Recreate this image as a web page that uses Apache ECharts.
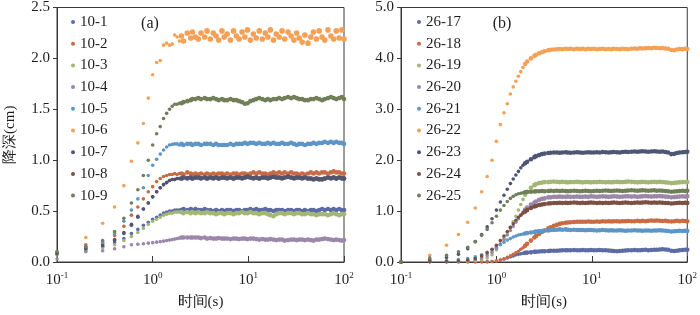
<!DOCTYPE html>
<html><head><meta charset="utf-8">
<script src="https://cdn.jsdelivr.net/npm/echarts@6/dist/echarts.min.js"></script>
<style>html,body{margin:0;padding:0;background:#fff}#c{width:700px;height:315px}</style>
</head><body><div id="c"></div>
<script>
// time axis (s)
const times = [0.1,0.2,0.3,0.4,0.5,0.6,0.7,0.8,0.9,1.0,1.1,1.2,1.3,1.4,1.5,1.6,1.7,1.8,1.9,
  2.0,2.1,2.3,2.5,2.6,2.8,3.0,3.2,3.5,3.7,
  4.0,4.3,4.6,4.9,5.3,5.6,6.0,6.5,7.0,7.5,
  8.0,8.6,9.2,9.8,10.5,11.3,12.1,13,14,15,
  16,17,18.3,19.6,21,22.5,24,26,28,30,
  32,34,36.5,39,42,45,48,51.5,55,59,
  63,68,73,78,83,89,95,100];

const namesA = ['10-1','10-2','10-3','10-4','10-5','10-6','10-7','10-8','10-9'];
const namesB = ['26-17','26-18','26-19','26-20','26-21','26-22','26-23','26-24','26-25'];

// panel (a) drawdown (cm)
const s10_1 = [0.09,0.12,0.15,0.19,0.23,0.28,0.32,0.36,0.39,0.42,0.44,0.46,0.48,0.49,0.50,0.50,0.51,0.51,0.51,
  0.51,0.52,0.51,0.52,0.51,0.52,0.51,0.51,0.52,0.51, 0.51,0.50,0.51,0.50,0.51,0.50,0.51,0.51,0.50,0.51,
  0.51,0.50,0.51,0.51,0.52,0.51,0.52,0.51,0.51,0.52, 0.51,0.51,0.50,0.51,0.51,0.51,0.50,0.51,0.51,0.50,
  0.51,0.51,0.50,0.51,0.50,0.51,0.51,0.50,0.51,0.52, 0.51,0.52,0.51,0.52,0.51,0.52,0.51,0.51];
const s10_2 = [0.10,0.17,0.19,0.26,0.35,0.46,0.54,0.62,0.69,0.74,0.79,0.82,0.84,0.85,0.86,0.86,0.87,0.86,0.87,
  0.87,0.86,0.88,0.87,0.86,0.87,0.86,0.87,0.86,0.87, 0.86,0.87,0.86,0.87,0.87,0.86,0.87,0.86,0.87,0.87,
  0.86,0.87,0.87,0.86,0.87,0.88,0.87,0.88,0.87,0.87, 0.86,0.87,0.88,0.87,0.88,0.87,0.88,0.87,0.88,0.87,
  0.87,0.86,0.87,0.86,0.87,0.88,0.87,0.88,0.87,0.88, 0.88,0.87,0.88,0.89,0.88,0.88,0.87,0.87];
const s10_3 = [0.07,0.11,0.14,0.17,0.21,0.25,0.29,0.33,0.37,0.40,0.42,0.44,0.46,0.47,0.48,0.48,0.49,0.49,0.49,
  0.49,0.48,0.49,0.48,0.49,0.48,0.49,0.48,0.48,0.49, 0.48,0.48,0.47,0.48,0.48,0.47,0.48,0.48,0.47,0.48,
  0.48,0.49,0.48,0.48,0.49,0.48,0.48,0.47,0.48,0.48, 0.47,0.46,0.45,0.47,0.48,0.48,0.47,0.48,0.48,0.47,
  0.48,0.48,0.47,0.47,0.48,0.47,0.47,0.46,0.47,0.47, 0.47,0.46,0.47,0.48,0.47,0.46,0.47,0.47];
const s10_4 = [0.03,0.10,0.11,0.13,0.15,0.17,0.175,0.18,0.185,0.19,0.195,0.20,0.205,0.21,0.215,0.22,0.225,0.23,0.235,
  0.24,0.24,0.24,0.24,0.24,0.24,0.24,0.235,0.24,0.23, 0.235,0.23,0.23,0.235,0.23,0.23,0.23,0.225,0.23,0.23,
  0.225,0.23,0.23,0.225,0.23,0.23,0.225,0.22,0.225,0.22, 0.22,0.225,0.22,0.215,0.22,0.22,0.21,0.215,0.22,0.22,
  0.215,0.22,0.22,0.215,0.22,0.215,0.21,0.22,0.22,0.225, 0.23,0.225,0.22,0.215,0.22,0.215,0.21,0.215];
const s10_5 = [0.09,0.15,0.19,0.28,0.40,0.51,0.62,0.73,0.85,0.95,1.01,1.06,1.10,1.13,1.15,1.155,1.16,1.16,1.15,
  1.16,1.15,1.16,1.16,1.15,1.16,1.16,1.15,1.16,1.16, 1.16,1.15,1.16,1.15,1.15,1.15,1.15,1.16,1.15,1.16,
  1.16,1.16,1.17,1.16,1.17,1.17,1.16,1.17,1.16,1.16, 1.17,1.16,1.17,1.16,1.16,1.17,1.16,1.16,1.17,1.16,
  1.15,1.16,1.16,1.15,1.16,1.16,1.17,1.16,1.17,1.17, 1.18,1.17,1.18,1.17,1.18,1.17,1.17,1.16];
const s10_6 = [0.10,0.24,0.38,0.54,0.75,0.99,1.17,1.36,1.61,1.84,1.96,1.98,2.13,2.15,2.13,2.14,2.23,2.21,2.17,
  2.22,2.17,2.25,2.20,2.26,2.21,2.19,2.25,2.21,2.27, 2.19,2.25,2.22,2.18,2.27,2.21,2.24,2.18,2.27,2.22,
  2.19,2.26,2.21,2.28,2.18,2.24,2.20,2.27,2.19,2.25, 2.21,2.28,2.18,2.24,2.21,2.27,2.19,2.26,2.22,2.18,
  2.25,2.20,2.16,2.23,2.15,2.21,2.26,2.19,2.27,2.21, 2.18,2.28,2.22,2.19,2.27,2.20,2.28,2.19];
const s10_7 = [0.08,0.13,0.16,0.21,0.28,0.36,0.44,0.52,0.58,0.64,0.69,0.73,0.76,0.78,0.80,0.81,0.81,0.82,0.82,
  0.82,0.83,0.82,0.83,0.82,0.83,0.83,0.82,0.83,0.82, 0.83,0.82,0.83,0.82,0.83,0.83,0.82,0.83,0.82,0.83,
  0.83,0.82,0.83,0.84,0.83,0.82,0.83,0.82,0.83,0.83, 0.82,0.83,0.84,0.83,0.83,0.82,0.83,0.84,0.83,0.82,
  0.83,0.83,0.82,0.83,0.82,0.82,0.81,0.82,0.81,0.81, 0.82,0.83,0.82,0.83,0.82,0.83,0.82,0.82];
const s10_8 = [0.09,0.14,0.17,0.22,0.29,0.37,0.45,0.52,0.58,0.64,0.69,0.73,0.76,0.78,0.80,0.81,0.81,0.82,0.82,
  0.82,0.83,0.825,0.83,0.82,0.83,0.83,0.825,0.83,0.82, 0.83,0.825,0.83,0.82,0.83,0.83,0.825,0.83,0.82,0.83,
  0.83,0.825,0.83,0.835,0.83,0.825,0.83,0.82,0.83,0.83, 0.825,0.83,0.835,0.83,0.83,0.825,0.83,0.835,0.83,0.825,
  0.83,0.83,0.825,0.83,0.82,0.82,0.815,0.82,0.815,0.815, 0.82,0.83,0.825,0.83,0.82,0.83,0.825,0.82];
const s10_9 = [0.10,0.15,0.21,0.30,0.43,0.58,0.71,0.85,1.00,1.15,1.26,1.33,1.41,1.46,1.50,1.53,1.55,1.55,1.56,
  1.56,1.57,1.58,1.59,1.60,1.60,1.61,1.60,1.61,1.60, 1.60,1.61,1.60,1.59,1.60,1.59,1.59,1.60,1.59,1.59,
  1.58,1.57,1.555,1.56,1.58,1.59,1.60,1.61,1.60,1.59, 1.60,1.59,1.60,1.60,1.61,1.60,1.61,1.62,1.61,1.62,
  1.61,1.60,1.60,1.59,1.59,1.60,1.60,1.61,1.60,1.59, 1.60,1.61,1.62,1.61,1.60,1.61,1.62,1.60];

// panel (b) drawdown (cm)
const s26_17 = [0.00,0.01,0.01,0.01,0.01,0.01,0.01,0.01,0.01,0.02,0.04,0.06,0.08,0.10,0.12,0.14,0.15,0.16,0.17,
  0.18,0.185,0.19,0.20,0.20,0.205,0.21,0.21,0.215,0.22, 0.22,0.22,0.225,0.23,0.23,0.23,0.23,0.235,0.23,0.23,
  0.235,0.23,0.23,0.235,0.23,0.23,0.235,0.23,0.23,0.225, 0.22,0.215,0.21,0.215,0.22,0.225,0.23,0.23,0.235,0.23,
  0.23,0.235,0.24,0.23,0.235,0.24,0.24,0.245,0.25,0.245, 0.24,0.22,0.215,0.22,0.23,0.235,0.24,0.24];
const s26_18 = [0.00,0.00,0.00,0.00,0.00,0.00,0.00,0.00,0.01,0.02,0.04,0.06,0.09,0.12,0.15,0.18,0.21,0.25,0.28,
  0.32,0.36,0.42,0.48,0.51,0.55,0.59,0.62,0.66,0.68, 0.71,0.73,0.75,0.76,0.77,0.775,0.78,0.785,0.79,0.79,
  0.79,0.79,0.795,0.79,0.79,0.795,0.79,0.80,0.795,0.80, 0.795,0.80,0.80,0.795,0.80,0.80,0.805,0.80,0.80,0.81,
  0.80,0.81,0.80,0.81,0.815,0.81,0.815,0.81,0.805,0.81, 0.80,0.795,0.80,0.81,0.80,0.81,0.805,0.80];
const s26_19 = [0.00,0.01,0.01,0.01,0.02,0.03,0.05,0.08,0.14,0.24,0.36,0.47,0.58,0.68,0.79,0.90,1.02,1.13,1.23,
  1.32,1.38,1.46,1.51,1.53,1.55,1.56,1.57,1.57,1.575, 1.58,1.575,1.57,1.575,1.57,1.565,1.57,1.57,1.575,1.57,
  1.565,1.57,1.57,1.565,1.57,1.57,1.575,1.57,1.565,1.57, 1.565,1.57,1.575,1.57,1.57,1.575,1.58,1.575,1.57,1.565,
  1.57,1.575,1.57,1.565,1.57,1.575,1.57,1.575,1.57,1.565, 1.56,1.55,1.555,1.56,1.565,1.57,1.57,1.57];
const s26_20 = [0.00,0.01,0.01,0.02,0.03,0.05,0.08,0.13,0.19,0.27,0.35,0.44,0.53,0.62,0.70,0.78,0.85,0.92,0.98,
  1.03,1.07,1.13,1.17,1.19,1.22,1.24,1.25,1.27,1.27, 1.28,1.28,1.285,1.28,1.28,1.285,1.28,1.28,1.285,1.28,
  1.28,1.285,1.28,1.29,1.285,1.28,1.285,1.29,1.285,1.28, 1.285,1.29,1.285,1.28,1.285,1.29,1.29,1.285,1.29,1.28,
  1.285,1.29,1.295,1.29,1.285,1.29,1.29,1.295,1.29,1.285, 1.28,1.27,1.275,1.28,1.285,1.29,1.285,1.29];
const s26_21 = [0.00,0.02,0.03,0.05,0.07,0.10,0.14,0.19,0.24,0.29,0.34,0.39,0.43,0.46,0.49,0.51,0.53,0.54,0.55,
  0.56,0.57,0.58,0.59,0.60,0.61,0.61,0.62,0.62,0.63, 0.63,0.635,0.64,0.635,0.64,0.635,0.63,0.635,0.63,0.63,
  0.63,0.625,0.63,0.63,0.625,0.62,0.625,0.63,0.625,0.62, 0.625,0.62,0.62,0.625,0.62,0.615,0.62,0.62,0.625,0.62,
  0.62,0.615,0.62,0.62,0.615,0.62,0.62,0.625,0.62,0.615, 0.61,0.60,0.605,0.61,0.615,0.61,0.615,0.61];
const s26_22 = [0.00,0.13,0.33,0.54,0.78,1.06,1.38,1.68,2.00,2.37,2.70,2.93,3.11,3.30,3.44,3.55,3.65,3.74,3.82,
  3.89,3.94,4.00,4.05,4.07,4.10,4.12,4.14,4.16,4.17, 4.175,4.18,4.185,4.18,4.19,4.185,4.19,4.18,4.19,4.185,
  4.19,4.18,4.19,4.185,4.19,4.18,4.185,4.19,4.18,4.185, 4.18,4.19,4.185,4.18,4.19,4.185,4.18,4.19,4.195,4.19,
  4.20,4.195,4.20,4.205,4.20,4.21,4.205,4.20,4.205,4.195, 4.19,4.165,4.16,4.175,4.185,4.18,4.19,4.185];
const s26_23 = [0.00,0.05,0.09,0.15,0.26,0.40,0.54,0.69,0.85,1.02,1.18,1.31,1.43,1.54,1.63,1.71,1.78,1.85,1.90,
  1.94,1.97,2.02,2.06,2.08,2.10,2.12,2.13,2.14,2.145, 2.15,2.15,2.145,2.15,2.155,2.15,2.145,2.15,2.155,2.15,
  2.145,2.15,2.155,2.15,2.15,2.155,2.15,2.16,2.155,2.15, 2.155,2.16,2.155,2.15,2.16,2.165,2.16,2.165,2.17,2.165,
  2.17,2.175,2.17,2.165,2.17,2.175,2.17,2.165,2.17,2.16, 2.15,2.12,2.125,2.14,2.15,2.155,2.16,2.165];
const s26_24 = [0.00,0.01,0.01,0.02,0.04,0.07,0.12,0.18,0.25,0.33,0.42,0.51,0.60,0.68,0.75,0.82,0.88,0.92,0.96,
  0.99,1.02,1.06,1.09,1.10,1.12,1.13,1.14,1.15,1.155, 1.16,1.16,1.165,1.16,1.165,1.16,1.165,1.17,1.165,1.16,
  1.165,1.16,1.165,1.17,1.165,1.16,1.165,1.16,1.165,1.16, 1.165,1.17,1.165,1.16,1.165,1.17,1.165,1.16,1.165,1.17,
  1.165,1.17,1.175,1.17,1.165,1.17,1.165,1.17,1.165,1.16, 1.16,1.15,1.155,1.16,1.165,1.16,1.165,1.16];
const s26_25 = [0.00,0.08,0.13,0.20,0.29,0.40,0.52,0.64,0.77,0.90,1.02,1.11,1.19,1.25,1.29,1.32,1.34,1.35,1.36,
  1.37,1.375,1.38,1.385,1.39,1.39,1.395,1.39,1.395,1.40, 1.395,1.40,1.395,1.40,1.395,1.39,1.395,1.40,1.395,1.39,
  1.395,1.40,1.395,1.39,1.395,1.40,1.395,1.40,1.405,1.40, 1.395,1.40,1.405,1.40,1.395,1.40,1.405,1.41,1.405,1.40,
  1.405,1.41,1.405,1.40,1.405,1.41,1.40,1.405,1.40,1.395, 1.39,1.38,1.385,1.39,1.395,1.40,1.395,1.40];

const valuesA = [s10_1,s10_2,s10_3,s10_4,s10_5,s10_6,s10_7,s10_8,s10_9];
const valuesB = [s26_17,s26_18,s26_19,s26_20,s26_21,s26_22,s26_23,s26_24,s26_25];

// axis settings
const xMin = 0.1, xMax = 100;
const yMaxA = 2.5, yStepA = 0.5;
const yMaxB = 5, yStepB = 1;

const palette = ['#5c6ba6','#c86a44','#a3b774','#9c86aa','#5e95c7','#f4a056','#4e5674','#7b5042','#717f58'];
const SERIF = 'Liberation Serif';
const TXT = '#1e1e1e';
const AX = '#3a3a3a';

function mk(vals, name, color, idx, z, bigSize) {
  return {
    type: 'scatter', name: name, xAxisIndex: idx, yAxisIndex: idx,
    data: vals.map((v, i) => [times[i], v]),
    symbol: 'circle', z: z,
    symbolSize: function (d) { return d[0] >= 1.95 ? bigSize : 3.6; },
    itemStyle: { color: color, opacity: 1 },
    silent: true, animation: false
  };
}
const series = [];
valuesA.forEach((v, i) => series.push(mk(v, namesA[i], palette[i], 0, i === 7 ? 1 : 2, i === 5 ? 5.6 : 4.6)));
valuesB.forEach((v, i) => series.push(mk(v, namesB[i], palette[i], 1, 2, 4.6)));

function xAxisCfg(idx) {
  return {
    type: 'log', logBase: 10, gridIndex: idx, min: xMin, max: xMax,
    name: '时间(s)', nameLocation: 'middle', nameGap: 33,
    nameTextStyle: { fontFamily: SERIF, fontSize: 15, color: TXT },
    axisLine: { lineStyle: { color: AX, width: 1 } },
    axisTick: { show: true, inside: true, length: 6, lineStyle: { color: AX } },
    minorTick: { show: false }, splitLine: { show: false },
    axisLabel: {
      margin: 9, color: TXT,
      formatter: function (v) { const e = Math.round(Math.log10(v)); return '{b|10}{s|' + e + '}'; },
      rich: {
        b: { fontFamily: SERIF, fontSize: 15, color: TXT, lineHeight: 18 },
        s: { fontFamily: SERIF, fontSize: 9, color: TXT, verticalAlign: 'top', lineHeight: 11 }
      }
    }
  };
}
function yAxisCfg(idx, max, step, name) {
  return {
    type: 'value', gridIndex: idx, min: 0, max: max, interval: step,
    name: name, nameLocation: 'middle', nameGap: 39, nameRotate: 90,
    nameTextStyle: { fontFamily: SERIF, fontSize: 15, color: TXT },
    axisLine: { show: true, lineStyle: { color: AX, width: 1 } },
    axisTick: { show: true, inside: false, length: 4, lineStyle: { color: AX } },
    splitLine: { show: false },
    axisLabel: { margin: 7, fontFamily: SERIF, fontSize: 15, color: TXT,
      formatter: v => v.toFixed(1) }
  };
}
const legendCfg = (names, left) => ({
  data: names, orient: 'vertical', left: left, top: 14, padding: 0,
  itemWidth: 4, itemHeight: 4, itemGap: 5.7, icon: 'circle', selectedMode: false,
  textStyle: { fontFamily: SERIF, fontSize: 15, color: TXT, lineHeight: 16 }
});

const chart = echarts.init(document.getElementById('c'), null, { renderer: 'canvas' });
chart.setOption({
  backgroundColor: '#fff',
  animation: false,
  textStyle: { fontFamily: SERIF },
  grid: [
    { left: 57, top: 4, width: 287, height: 262, show: true, borderColor: AX, borderWidth: 1 },
    { left: 401, top: 3, width: 288, height: 263, show: true, borderColor: AX, borderWidth: 1 }
  ],
  xAxis: [xAxisCfg(0), xAxisCfg(1)],
  yAxis: [yAxisCfg(0, yMaxA, yStepA, '降深(cm)'), yAxisCfg(1, yMaxB, yStepB, '')],
  legend: [legendCfg(namesA, 71), legendCfg(namesB, 417)],
  graphic: [
    { type: 'text', x: 150, y: 24, style: { text: '(a)', fontFamily: SERIF, fontSize: 16, fill: TXT, align: 'center', verticalAlign: 'middle' } },
    { type: 'text', x: 502, y: 24, style: { text: '(b)', fontFamily: SERIF, fontSize: 16, fill: TXT, align: 'center', verticalAlign: 'middle' } }
  ],
  series: series
});
</script></body></html>
